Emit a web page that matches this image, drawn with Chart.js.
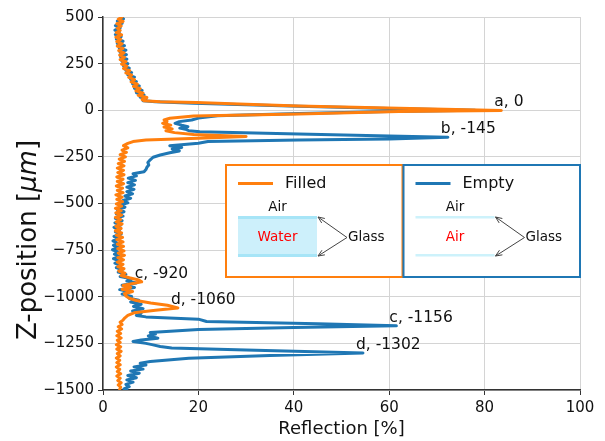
<!DOCTYPE html>
<html>
<head>
<meta charset="utf-8">
<script src="https://cdn.jsdelivr.net/npm/chart.js@4.4.0/dist/chart.umd.min.js"></script>
<style>
  html, body { margin: 0; padding: 0; background: #fff; }
</style>
</head>
<body>
<canvas id="mycanvas" width="605" height="441"></canvas>
<script>
// Filled (orange): z-position [um] and reflection [%]
var filledZ = [500, 488, 476, 464, 452, 440, 428, 416, 404, 392, 380, 368, 356, 344, 332, 320, 308, 296, 284, 272,
  260, 248, 236, 224, 212, 200, 188, 176, 164, 152, 140, 128, 116, 104, 92, 80, 68, 58, 51, 45,
  41, 32, 23, 11, -1, -7, -20, -31, -43, -52, -61, -70, -80, -90, -100, -110, -120, -130, -141, -150,
  -160, -168, -178, -190, -202, -214, -226, -238, -250, -262, -274, -286, -298, -310, -322, -334, -346, -358, -370, -382,
  -394, -406, -418, -430, -442, -454, -466, -478, -490, -502, -514, -526, -538, -550, -562, -574, -586, -598, -610, -622,
  -634, -646, -658, -670, -682, -694, -706, -718, -730, -742, -754, -766, -778, -790, -802, -814, -826, -838, -850, -862,
  -874, -886, -898, -910, -920, -930, -940, -950, -960, -972, -984, -996, -1008, -1020, -1033, -1046, -1060, -1072, -1086, -1100,
  -1113, -1125, -1137, -1149, -1161, -1173, -1185, -1197, -1209, -1221, -1233, -1245, -1257, -1269, -1281, -1293, -1305, -1317, -1329, -1341,
  -1353, -1365, -1377, -1389, -1401, -1413, -1425, -1437, -1449, -1461, -1473, -1485, -1497];
var filledR = [4.0, 3.2, 4.2, 2.9, 3.8, 3.0, 3.6, 2.8, 3.9, 2.7, 3.7, 2.9, 4.0, 3.0, 4.2, 3.3, 4.4, 3.5, 4.5, 3.6,
  4.8, 3.9, 5.0, 4.3, 5.6, 4.8, 6.0, 5.4, 6.6, 5.9, 7.2, 6.4, 7.8, 6.9, 8.4, 7.4, 9.2, 8.2, 8.6, 12,
  19.6, 30, 41, 62, 83.5, 62, 41, 19, 14, 12.8, 13.4, 12.5, 14.2, 12.8, 14.5, 13.2, 15, 19, 30, 20,
  9, 6.3, 5.2, 4.3, 5.2, 4.0, 4.9, 3.6, 4.7, 3.4, 4.5, 3.2, 4.4, 3.0, 4.3, 3.1, 4.4, 2.9, 4.2, 3.0,
  4.3, 2.8, 4.1, 3.0, 4.2, 2.7, 4.0, 2.9, 4.1, 2.8, 3.9, 2.6, 3.8, 2.7, 3.9, 2.6, 3.7, 2.8, 4.0, 2.7,
  3.8, 2.6, 3.9, 2.8, 4.1, 2.9, 4.2, 3.0, 4.3, 3.1, 4.4, 3.2, 4.5, 3.1, 4.3, 3.0, 4.2, 3.1, 4.4, 3.3,
  4.6, 3.8, 5.5, 7.5, 8.1, 6.0, 4.2, 5.8, 4.0, 6.2, 4.5, 4.8, 5.5, 7.0, 10, 13.5, 15.7, 11, 6.5, 5.2,
  4.6, 4.2, 3.6, 4.0, 3.2, 3.9, 3.0, 3.7, 2.9, 3.8, 3.0, 3.6, 2.8, 3.7, 2.9, 3.8, 3.0, 3.6, 2.8, 3.5,
  2.9, 3.6, 2.8, 3.5, 3.0, 3.7, 2.9, 3.6, 3.1, 3.8, 3.2, 3.7, 3.5];

// Empty (blue)
var emptyZ = [500, 490, 478, 466, 454, 442, 430, 418, 406, 394, 382, 370, 358, 346, 334, 322, 310, 298, 286, 274,
  262, 250, 238, 226, 214, 202, 190, 178, 166, 154, 142, 130, 118, 106, 94, 82, 70, 60, 51, 45,
  38, 30, 21, 10, 0, -7, -18, -30, -42, -52, -61, -70, -80, -88, -96, -104, -110, -115, -127, -138,
  -145, -154, -159, -168, -177, -190, -200, -208, -218, -228, -240, -252, -266, -280, -294, -306, -318, -330, -340, -352,
  -364, -376, -388, -400, -412, -424, -436, -448, -460, -472, -484, -496, -508, -520, -532, -544, -556, -568, -580, -592,
  -604, -616, -628, -640, -652, -664, -676, -688, -700, -712, -724, -736, -748, -760, -772, -784, -796, -808, -820, -832,
  -844, -856, -868, -880, -892, -904, -916, -926, -938, -950, -962, -974, -986, -998, -1008, -1018, -1028, -1040, -1052, -1064,
  -1076, -1088, -1100, -1108, -1120, -1133, -1145, -1156, -1165, -1175, -1192, -1200, -1210, -1222, -1232, -1240, -1250, -1258, -1267, -1275,
  -1285, -1302, -1315, -1330, -1347, -1356, -1366, -1376, -1388, -1398, -1410, -1422, -1434, -1446, -1458, -1470, -1482, -1494, -1500];
var emptyR = [3.8, 4.3, 3.0, 4.0, 2.6, 3.6, 2.5, 3.4, 2.6, 3.8, 2.8, 4.2, 3.0, 4.5, 3.4, 4.8, 3.6, 4.9, 3.7, 5.0,
  4.0, 5.2, 4.3, 5.5, 4.8, 6.0, 5.2, 6.6, 5.8, 7.0, 6.2, 7.6, 6.6, 8.2, 7.0, 8.6, 7.8, 9.0, 8.4, 11,
  19, 30, 41, 60, 78, 60, 41, 24, 20, 18.6, 16, 15.1, 16.5, 17.8, 16.1, 17.5, 18, 20.3, 41, 60,
  72.3, 60, 41, 22, 20, 14, 16.5, 14.5, 16, 14, 12, 10.5, 9.9, 9.4, 9.6, 9.2, 9.0, 8.6, 6.3, 7.0,
  5.3, 6.8, 5.2, 6.6, 5.0, 6.5, 5.0, 6.2, 4.6, 5.8, 4.2, 5.2, 3.5, 4.6, 3.0, 4.4, 2.8, 4.2, 2.6, 4.0,
  2.5, 3.7, 2.3, 3.5, 2.6, 3.8, 2.3, 3.2, 2.1, 3.0, 2.2, 3.3, 2.0, 3.1, 2.4, 3.4, 2.2, 3.3, 2.5, 3.6,
  2.8, 4.0, 3.2, 4.8, 3.6, 6.0, 5.0, 7.0, 4.0, 6.6, 3.5, 5.5, 4.0, 6.0, 5.5, 7.5, 5.8, 8.0, 6.4, 8.4,
  6.2, 8.0, 7.0, 9.0, 20, 21.7, 45, 61.5, 40, 20, 9.9, 11, 9.5, 11.5, 8, 6.3, 9, 10.5, 12, 14.4,
  30, 54.5, 35, 18, 9.9, 7.8, 9.0, 6.5, 8.4, 5.8, 7.6, 5.2, 7.0, 5.0, 6.3, 4.8, 5.5, 4.4, 5.0];

var xTicks = [0, 20, 40, 60, 80, 100];
var yTicks = [500, 250, 0, -250, -500, -750, -1000, -1250, -1500];

// peak labels: text, reflection, z
var annoText = ["a, 0", "b, -145", "c, -920", "d, -1060", "c, -1156", "d, -1302"];
var annoR = [83.5, 72.3, 8.1, 15.7, 61.5, 54.5];
var annoZ = [0, -145, -920, -1060, -1156, -1302];

var ORANGE = "#ff7f0e";
var BLUE = "#1f77b4";
var FONT = "'DejaVu Sans', sans-serif";

function toPoints(rs, zs) {
  var pts = [];
  for (var i = 0; i < rs.length; i++) pts.push({ x: rs[i], y: zs[i] });
  return pts;
}

function arrow(ctx, x1, y1, x2, y2) {
  var a = Math.atan2(y2 - y1, x2 - x1);
  var h = 7;
  ctx.beginPath();
  ctx.moveTo(x1, y1);
  ctx.lineTo(x2, y2);
  ctx.moveTo(x2 - h * Math.cos(a - 0.4), y2 - h * Math.sin(a - 0.4));
  ctx.lineTo(x2, y2);
  ctx.lineTo(x2 - h * Math.cos(a + 0.4), y2 - h * Math.sin(a + 0.4));
  ctx.stroke();
}

var extras = {
  id: "extras",
  afterDatasetsDraw: function(chart) {
    var ctx = chart.ctx;
    var xs = chart.scales.x, ys = chart.scales.y;
    ctx.save();

    // peak labels
    ctx.fillStyle = "#111";
    ctx.font = "15.5px " + FONT;
    ctx.textAlign = "left";
    ctx.textBaseline = "alphabetic";
    for (var i = 0; i < annoText.length; i++) {
      ctx.fillText(annoText[i], xs.getPixelForValue(annoR[i]) - 7, ys.getPixelForValue(annoZ[i]) - 4);
    }

    // legend boxes
    var boxes = [
      { x: 226, color: ORANGE, label: "Filled", inner: "Water", filled: true },
      { x: 403.5, color: BLUE, label: "Empty", inner: "Air", filled: false }
    ];
    boxes.forEach(function(b) {
      var bx = b.x, by = 165, bw = 176.5, bh = 112;
      ctx.fillStyle = "#fff";
      ctx.fillRect(bx, by, bw, bh);
      ctx.strokeStyle = b.color;
      ctx.lineWidth = 2;
      ctx.strokeRect(bx, by, bw, bh);

      ctx.lineWidth = 3;
      ctx.beginPath();
      ctx.moveTo(bx + 12, by + 18.5);
      ctx.lineTo(bx + 47, by + 18.5);
      ctx.stroke();
      ctx.fillStyle = "#111";
      ctx.font = "16px " + FONT;
      ctx.textAlign = "left";
      ctx.textBaseline = "middle";
      ctx.fillText(b.label, bx + 59, by + 18.5);

      var lx = bx + 12, lw = 79, top = by + 52, bot = by + 91;
      if (b.filled) {
        ctx.fillStyle = "#cdf0fb";
        ctx.fillRect(lx, top, lw, bot - top);
        ctx.fillStyle = "#a7e5f7";
        ctx.fillRect(lx, top - 1, lw, 3);
        ctx.fillRect(lx, bot - 2, lw, 3);
      } else {
        ctx.fillStyle = "#cdf2fb";
        ctx.fillRect(lx, top - 1, lw, 2.5);
        ctx.fillRect(lx, bot - 2, lw, 2.5);
      }
      ctx.font = "13.5px " + FONT;
      ctx.textAlign = "center";
      ctx.fillStyle = "#111";
      ctx.fillText("Air", lx + lw / 2, by + 42);
      ctx.fillStyle = "#ff0000";
      ctx.fillText(b.inner, lx + lw / 2, (top + bot) / 2 + 1);
      ctx.fillStyle = "#111";
      ctx.textAlign = "left";
      ctx.fillText("Glass", lx + lw + 31, (top + bot) / 2 + 1);
      ctx.strokeStyle = "#444";
      ctx.lineWidth = 1;
      arrow(ctx, lx + lw + 30, (top + bot) / 2 + 1, lx + lw + 1, top);
      arrow(ctx, lx + lw + 30, (top + bot) / 2 + 1, lx + lw + 1, bot);
    });

    ctx.restore();
  },
  afterDraw: function(chart) {
    var ctx = chart.ctx;
    var area = chart.chartArea;
    ctx.save();
    ctx.fillStyle = "#111";
    ctx.font = "18px " + FONT;
    ctx.textAlign = "center";
    ctx.textBaseline = "alphabetic";
    ctx.fillText("Reflection [%]", (area.left + area.right) / 2, 434);

    // y title with italic unit
    var fs = 26;
    ctx.translate(36, 240);
    ctx.rotate(-Math.PI / 2);
    var p1 = "Z-position [", p2 = "\u03bcm", p3 = "]";
    ctx.font = fs + "px " + FONT;
    var w1 = ctx.measureText(p1).width, w3 = ctx.measureText(p3).width;
    ctx.font = "italic " + fs + "px " + FONT;
    var w2 = ctx.measureText(p2).width;
    var x0 = -(w1 + w2 + w3) / 2;
    ctx.textAlign = "left";
    ctx.font = fs + "px " + FONT;
    ctx.fillText(p1, x0, 0);
    ctx.font = "italic " + fs + "px " + FONT;
    ctx.fillText(p2, x0 + w1, 0);
    ctx.font = fs + "px " + FONT;
    ctx.fillText(p3, x0 + w1 + w2, 0);
    ctx.restore();
  }
};

var ctx = document.getElementById("mycanvas");

var chart = new Chart(ctx, {
  type: "scatter",
  data: {
    datasets: [
      {
        label: "Filled",
        data: toPoints(filledR, filledZ),
        showLine: true,
        borderColor: ORANGE,
        backgroundColor: ORANGE,
        borderWidth: 3,
        borderJoinStyle: "round",
        borderCapStyle: "round",
        pointRadius: 0,
        tension: 0
      },
      {
        label: "Empty",
        data: toPoints(emptyR, emptyZ),
        showLine: true,
        borderColor: BLUE,
        backgroundColor: BLUE,
        borderWidth: 3,
        borderJoinStyle: "round",
        borderCapStyle: "round",
        pointRadius: 0,
        tension: 0
      }
    ]
  },
  options: {
    responsive: false,
    animation: false,
    layout: { padding: { left: 0, top: 17, right: 25, bottom: 0 } },
    plugins: { legend: { display: false }, tooltip: { enabled: false } },
    scales: {
      x: {
        type: "linear",
        min: 0, max: 100,
        afterBuildTicks: function(scale) { scale.ticks = xTicks.map(function(v) { return { value: v }; }); },
        afterFit: function(scale) { scale.height = 51; },
        ticks: { color: "#111", font: { family: FONT, size: 15 }, padding: 4, maxRotation: 0 },
        grid: { color: "#d4d4d4", lineWidth: 1, tickLength: 5, tickColor: "#333" },
        border: { color: "#333", width: 1.5 }
      },
      y: {
        type: "linear",
        min: -1500, max: 500,
        afterBuildTicks: function(scale) { scale.ticks = yTicks.map(function(v) { return { value: v }; }); },
        afterFit: function(scale) { scale.width = 103; },
        ticks: {
          color: "#111", font: { family: FONT, size: 15 }, padding: 4,
          callback: function(v) { return String(v).replace("-", "\u2212"); }
        },
        grid: { color: "#d4d4d4", lineWidth: 1, tickLength: 5, tickColor: "#333" },
        border: { color: "#333", width: 1.5 }
      }
    }
  },
  plugins: [extras]
});
</script>
</body>
</html>
